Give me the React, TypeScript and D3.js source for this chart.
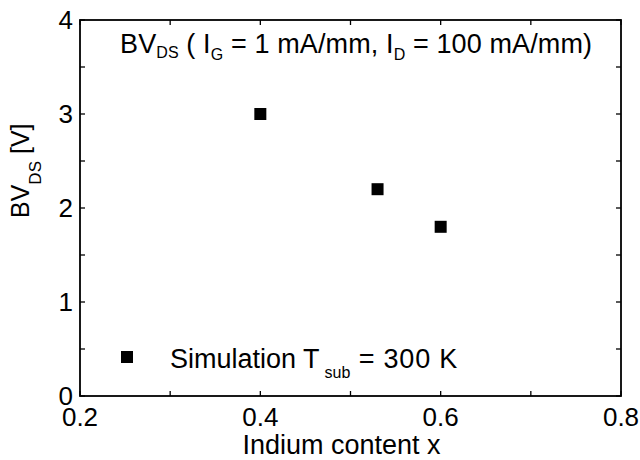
import React from "react";
import * as d3 from "d3";

const indium = [0.4, 0.53, 0.6];
const bvds = [3.0, 2.2, 1.8];
const xTicks = [0.2, 0.4, 0.6, 0.8];
const xMinor = [0.3, 0.5, 0.7];
const yTicks = [0, 1, 2, 3, 4];
const yMinor = [0.5, 1.5, 2.5, 3.5];

const W = 640, H = 460;
const L = 80, R = 621, T = 20, B = 396;
const FONT = "'Liberation Sans', Arial, Helvetica, sans-serif";
const FS = 26;
const FS2 = 27;
const SUB = 16;

export default function App() {
  const x = d3.scaleLinear().domain([0.2, 0.8]).range([L, R]);
  const y = d3.scaleLinear().domain([0, 4]).range([B, T]);
  const tk = 5;
  const ms = 12;
  const allX = [...xTicks, ...xMinor];
  const allY = [...yTicks, ...yMinor];
  return (
    <svg width={W} height={H} style={{ position: "absolute", left: 0, top: 0 }} fontFamily={FONT}>
      <rect x={0} y={0} width={W} height={H} fill="#fff" />
      {allX.map((v, i) => (
        <g key={"xt" + i} stroke="#000" strokeWidth={1.3}>
          <line x1={x(v)} x2={x(v)} y1={B} y2={B - tk} />
          <line x1={x(v)} x2={x(v)} y1={T} y2={T + tk} />
        </g>
      ))}
      {allY.map((v, i) => (
        <g key={"yt" + i} stroke="#000" strokeWidth={1.3}>
          <line x1={L} x2={L + tk} y1={y(v)} y2={y(v)} />
          <line x1={R} x2={R - tk} y1={y(v)} y2={y(v)} />
        </g>
      ))}
      <rect x={L} y={T} width={R - L} height={B - T} fill="none" stroke="#000" strokeWidth={1.8} />
      {xTicks.map((v, i) => (
        <text key={"xl" + i} x={x(v)} y={426} textAnchor="middle" fontSize={FS}>
          {String(v)}
        </text>
      ))}
      {yTicks.map((v, i) => (
        <text key={"yl" + i} x={73} y={y(v) + 9} textAnchor="end" fontSize={FS}>
          {String(v)}
        </text>
      ))}
      <text x={(L + R) / 2 - 9} y={454} textAnchor="middle" fontSize={FS2}>
        Indium content x
      </text>
      <text transform={`translate(29,218) rotate(-90)`} fontSize={25}>
        BV<tspan fontSize={17} dy={12}>DS</tspan>
        <tspan dy={-12}> [V]</tspan>
      </text>
      <text x={120} y={53} fontSize={FS2} letterSpacing={0.12}>
        BV<tspan fontSize={SUB} dy={5}>DS</tspan>
        <tspan dy={-5}> ( I</tspan>
        <tspan fontSize={SUB} dy={7}>G</tspan>
        <tspan dy={-7}> = 1 mA/mm, I</tspan>
        <tspan fontSize={SUB} dy={7}>D</tspan>
        <tspan dy={-7}> = 100 mA/mm)</tspan>
      </text>
      {indium.map((v, i) => (
        <rect key={"p" + i} x={x(v) - ms / 2} y={y(bvds[i]) - ms / 2} width={ms} height={ms} fill="#000" />
      ))}
      <rect x={127 - ms / 2} y={357 - ms / 2} width={ms} height={ms} fill="#000" />
      <text x={170} y={368} fontSize={FS2}>
        Simulation T<tspan fontSize={SUB} dx={5} dy={10}>sub</tspan>
        <tspan dy={-10} letterSpacing={0.8}> = 300 K</tspan>
      </text>
    </svg>
  );
}
